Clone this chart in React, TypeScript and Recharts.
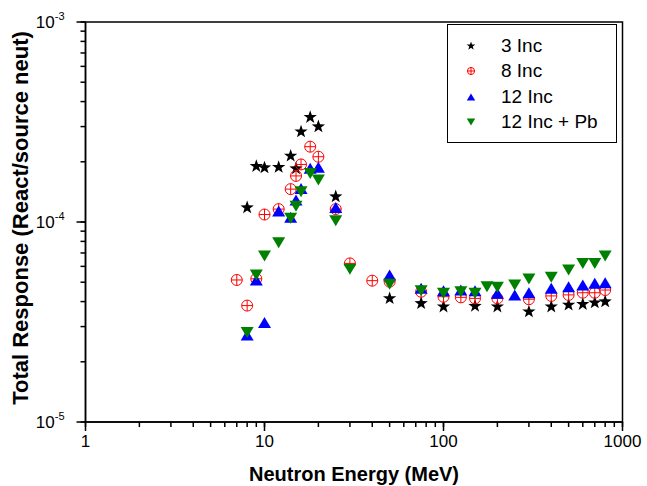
import React from "react";
import {
  ScatterChart,
  Scatter,
  XAxis,
  YAxis,
  ReferenceArea,
  Legend,
} from "recharts";

// energies (MeV) and total response per configuration
const inc3E = [8, 9, 10, 12, 14, 15, 16, 18, 20, 25, 50, 75, 100, 150, 200, 300, 400, 500, 600, 700, 800];
const inc3V = [
  1.18e-4, 1.9e-4, 1.87e-4, 1.88e-4, 2.14e-4, 1.85e-4, 2.83e-4, 3.34e-4, 3.0e-4, 1.34e-4,
  4.15e-5, 3.92e-5, 3.77e-5, 3.8e-5, 3.77e-5, 3.56e-5, 3.77e-5, 3.85e-5, 3.88e-5, 3.95e-5, 4.0e-5,
];

const inc8E = [7, 8, 9, 10, 12, 14, 15, 16, 18, 20, 25, 30, 40, 50, 75, 100, 125, 150, 200, 300, 400, 500, 600, 700, 800];
const inc8V = [
  5.13e-5, 3.82e-5, 5.2e-5, 1.09e-4, 1.16e-4, 1.46e-4, 1.7e-4, 1.94e-4, 2.38e-4, 2.12e-4, 1.16e-4,
  6.21e-5, 5.09e-5, 5.03e-5, 4.48e-5, 4.23e-5, 4.2e-5, 4.15e-5, 4.15e-5, 4.11e-5, 4.27e-5, 4.32e-5,
  4.43e-5, 4.43e-5, 4.57e-5,
];

const inc12E = [8, 9, 10, 12, 14, 15, 16, 18, 20, 25, 50, 75, 100, 125, 150, 200, 250, 300, 400, 500, 600, 700, 800];
const inc12V = [
  2.72e-5, 5.13e-5, 3.14e-5, 1.135e-4, 1.056e-4, 1.29e-4, 1.47e-4, 1.855e-4, 1.877e-4, 1.18e-4,
  5.43e-5, 4.66e-5, 4.53e-5, 4.57e-5, 4.53e-5, 4.4e-5, 4.32e-5, 4.43e-5, 4.66e-5, 4.75e-5, 4.84e-5,
  4.94e-5, 4.97e-5,
];

const pbE = [8, 9, 10, 12, 14, 15, 16, 18, 20, 25, 30, 50, 75, 100, 125, 150, 175, 200, 250, 300, 400, 500, 600, 700, 800];
const pbV = [
  2.8e-5, 5.43e-5, 6.76e-5, 7.88e-5, 1.043e-4, 1.2e-4, 1.417e-4, 1.75e-4, 1.62e-4, 1.015e-4, 5.8e-5,
  4.88e-5, 4.53e-5, 4.4e-5, 4.48e-5, 4.4e-5, 4.75e-5, 4.72e-5, 4.84e-5, 5.19e-5, 5.29e-5, 5.75e-5,
  6.21e-5, 6.21e-5, 6.76e-5,
];

const xMajor = [1, 10, 100, 1000];
const yMajor = [1e-5, 1e-4, 1e-3];
const yExp = ["-5", "-4", "-3"];

const zip = (e: number[], v: number[]) => e.map((x, i) => ({ e: x, v: v[i] }));

const minorTicks = (majors: number[]) => {
  const out: number[] = [];
  majors.forEach((m, i) => {
    out.push(m);
    if (i < majors.length - 1) for (let k = 2; k <= 9; k++) out.push(+(m * k).toPrecision(3));
  });
  return out;
};
const xTicks = minorTicks(xMajor);
const yTicks = minorTicks(yMajor);

const font = "'Liberation Sans', Arial, sans-serif";
const TICK = 5; // built-in (minor) tick length

const majorIndex = (v: number, majors: number[]) => majors.findIndex((m) => Math.abs(v / m - 1) < 1e-6);

// y passed in is axis + TICK; majors get a longer mark and a label
function XTick(props: any) {
  const { x, y, payload } = props;
  if (majorIndex(payload.value, xMajor) < 0) return <g />;
  return (
    <g>
      <path d={`M${x},${y - TICK}V${y + 4}`} stroke="#000" strokeWidth={1.5} fill="none" />
      <text x={x} y={y + 20} textAnchor="middle" fontSize={17} fontFamily={font} fill="#000">
        {payload.value}
      </text>
    </g>
  );
}

function YTick(props: any) {
  const { x, y, payload } = props;
  const idx = majorIndex(payload.value, yMajor);
  if (idx < 0) return <g />;
  return (
    <g>
      <path d={`M${x + TICK},${y}H${x - 4}`} stroke="#000" strokeWidth={1.5} fill="none" />
      <text x={x - 16} y={y + 6} textAnchor="end" fontSize={17} fontFamily={font} fill="#000">
        10
        <tspan dy={-8} fontSize={11}>
          {yExp[idx]}
        </tspan>
      </text>
    </g>
  );
}

function starPath(cx: number, cy: number, R: number, r: number) {
  let d = "";
  for (let i = 0; i < 10; i++) {
    const rad = i % 2 === 0 ? R : r;
    const a = -Math.PI / 2 + (i * Math.PI) / 5;
    d += (i === 0 ? "M" : "L") + (cx + rad * Math.cos(a)).toFixed(2) + "," + (cy + rad * Math.sin(a)).toFixed(2);
  }
  return d + "Z";
}

const Star = ({ cx, cy, s = 1 }: any) => <path d={starPath(cx, cy, 7 * s, 2.8 * s)} fill="#000" />;

const CrossCircle = ({ cx, cy, s = 1 }: any) => {
  const r = 5.5 * s;
  return (
    <g stroke="#ff0000" strokeWidth={1} fill="none">
      <circle cx={cx} cy={cy} r={r} />
      <line x1={cx - r} x2={cx + r} y1={cy} y2={cy} />
      <line x1={cx} x2={cx} y1={cy - r} y2={cy + r} />
    </g>
  );
};

const UpTri = ({ cx, cy, s = 1 }: any) => {
  const w = 6.5 * s;
  const h = 5.5 * s;
  return <path d={`M${cx},${cy - h}L${cx + w},${cy + h}L${cx - w},${cy + h}Z`} fill="#0000ff" />;
};

const DownTri = ({ cx, cy, s = 1 }: any) => {
  const w = 6.5 * s;
  const h = 5.5 * s;
  return <path d={`M${cx - w},${cy - h}L${cx + w},${cy - h}L${cx},${cy + h}Z`} fill="#008000" />;
};

const legendItems = [
  { name: "3 Inc", Icon: Star },
  { name: "8 Inc", Icon: CrossCircle },
  { name: "12 Inc", Icon: UpTri },
  { name: "12 Inc + Pb", Icon: DownTri },
];

function LegendBox() {
  return (
    <div
      style={{
        border: "1.5px solid #000",
        background: "#fff",
        boxSizing: "border-box",
        width: 170,
        height: 119,
        padding: "8px 0 0 0",
        fontFamily: font,
        fontSize: 19,
      }}
    >
      {legendItems.map(({ name, Icon }) => (
        <div key={name} style={{ display: "flex", alignItems: "center", height: 25.5 }}>
          <svg width={53} height={20}>
            <Icon cx={23} cy={10} s={0.65} />
          </svg>
          <span>{name}</span>
        </div>
      ))}
    </div>
  );
}

export default function App() {
  return (
    <div style={{ position: "absolute", left: 0, top: 0, background: "#fff" }}>
      <ScatterChart width={647} height={486} margin={{ top: 22, right: 24.5, bottom: 0, left: 0 }}>
        <XAxis
          type="number"
          dataKey="e"
          scale="log"
          domain={[1, 1000]}
          ticks={xTicks}
          interval={0}
          allowDataOverflow
          height={64}
          tickSize={TICK}
          tickMargin={0}
          tickLine={{ stroke: "#000", strokeWidth: 1.5 }}
          axisLine={{ stroke: "#000", strokeWidth: 1.5 }}
          tick={(p: any) => <XTick {...p} />}
          label={{
            value: "Neutron Energy (MeV)",
            position: "insideBottom",
            offset: 5,
            style: { fontFamily: font, fontSize: 20, fontWeight: "bold", fill: "#000" },
          }}
        />
        <YAxis
          type="number"
          dataKey="v"
          scale="log"
          domain={[1e-5, 1e-3]}
          ticks={yTicks}
          interval={0}
          allowDataOverflow
          width={85.5}
          tickSize={TICK}
          tickMargin={0}
          tickLine={{ stroke: "#000", strokeWidth: 1.5 }}
          axisLine={{ stroke: "#000", strokeWidth: 1.5 }}
          tick={(p: any) => <YTick {...p} />}
          label={{
            value: "Total Response (React/source neut)",
            angle: -90,
            position: "insideLeft",
            offset: 20,
            dy: -4,
            style: { textAnchor: "middle", fontFamily: font, fontSize: 22, fontWeight: "bold", fill: "#000" },
          }}
        />
        <ReferenceArea x1={1} x2={1000} y1={1e-5} y2={1e-3} fill="none" stroke="#000" strokeWidth={1.5} />
        <Scatter name="3 Inc" data={zip(inc3E, inc3V)} shape={(p: any) => <Star cx={p.cx} cy={p.cy} />} isAnimationActive={false} />
        <Scatter name="8 Inc" data={zip(inc8E, inc8V)} shape={(p: any) => <CrossCircle cx={p.cx} cy={p.cy} />} isAnimationActive={false} />
        <Scatter name="12 Inc" data={zip(inc12E, inc12V)} shape={(p: any) => <UpTri cx={p.cx} cy={p.cy} />} isAnimationActive={false} />
        <Scatter name="12 Inc + Pb" data={zip(pbE, pbV)} shape={(p: any) => <DownTri cx={p.cx} cy={p.cy} />} isAnimationActive={false} />
        <Legend
          layout="vertical"
          align="center"
          verticalAlign="middle"
          content={() => <LegendBox />}
          wrapperStyle={{ position: "absolute", left: 447, top: 24, width: 170, height: 119 }}
        />
      </ScatterChart>
    </div>
  );
}
